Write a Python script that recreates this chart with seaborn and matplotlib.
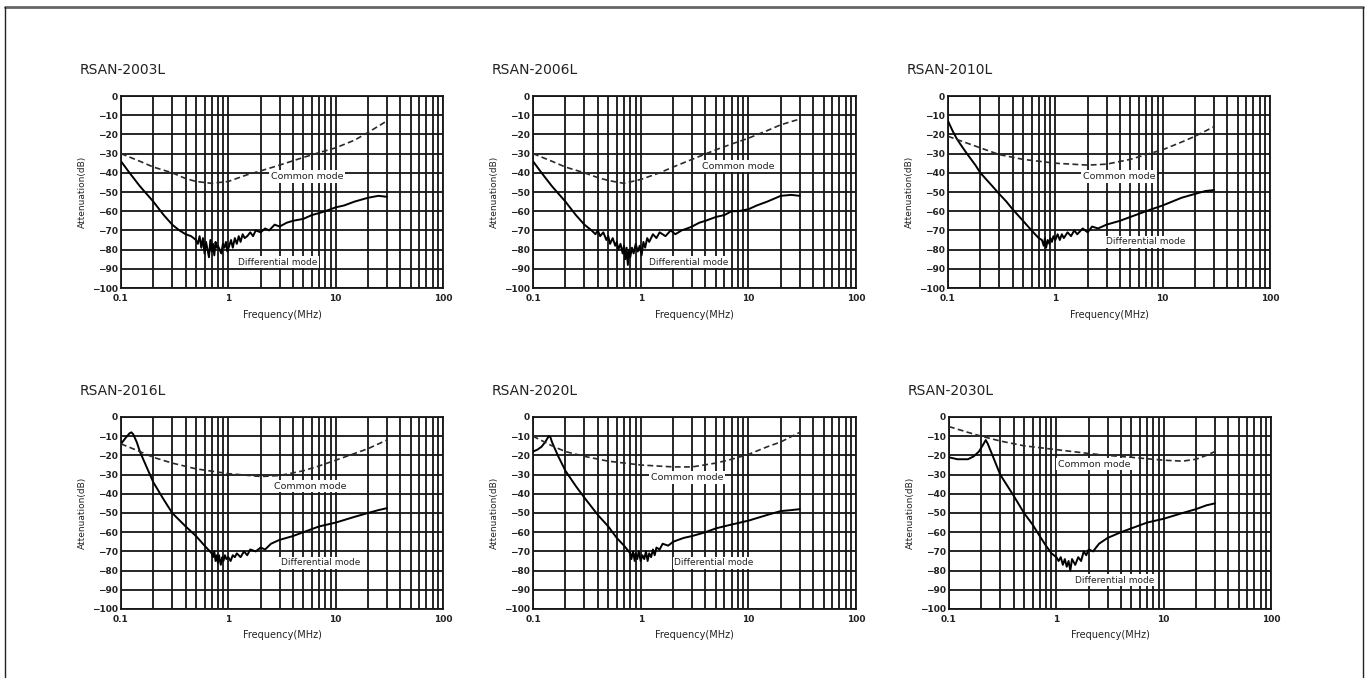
import numpy as np
import pandas as pd
import matplotlib
matplotlib.use("Agg")
import matplotlib.pyplot as plt
from matplotlib.ticker import LogLocator, FixedLocator, NullFormatter
from matplotlib.lines import Line2D
import seaborn as sns

# Panel titles
titles = ["RSAN-2003L", "RSAN-2006L", "RSAN-2010L",
          "RSAN-2016L", "RSAN-2020L", "RSAN-2030L"]

x_ticks = [0.1, 1, 10, 100]
x_tick_labels = ["0.1", "1", "10", "100"]
y_ticks = [0, -10, -20, -30, -40, -50, -60, -70, -80, -90, -100]
y_tick_labels = ["0", "\u221210", "\u221220", "\u221230", "\u221240", "\u221250",
                 "\u221260", "\u221270", "\u221280", "\u221290", "\u2212100"]

# Common mode curves (dashed)
cm_freq_2003 = [0.1, 0.15, 0.2, 0.3, 0.4, 0.5, 0.7, 1, 1.5, 2, 3, 5, 7, 10, 15, 20, 30]
cm_2003 = [-30, -34, -37, -40, -43, -44.5, -45.5, -44.5, -41, -39, -36, -32, -29.5, -27, -23, -19, -13]

cm_freq_2006 = [0.1, 0.15, 0.2, 0.3, 0.4, 0.5, 0.7, 1, 1.5, 2, 3, 5, 7, 10, 15, 20, 30]
cm_2006 = [-30, -34, -37, -40, -42.5, -44, -45.5, -43.5, -40, -37, -33, -28, -25, -22, -18, -15, -12]

cm_freq_2010 = [0.1, 0.2, 0.3, 0.5, 1, 2, 3, 5, 7, 10, 15, 20, 30]
cm_2010 = [-21, -27, -30.5, -33, -35, -36, -35.5, -33, -30.5, -28, -24, -21, -16]

cm_freq_2016 = [0.1, 0.15, 0.2, 0.3, 0.5, 1, 2, 3, 5, 7, 10, 15, 20, 30]
cm_2016 = [-14, -18, -21, -24, -27, -29.5, -31, -30.5, -28, -25.5, -22.5, -19, -16.5, -12]

cm_freq_2020 = [0.1, 0.15, 0.2, 0.3, 0.5, 1, 2, 3, 5, 7, 10, 15, 20, 30]
cm_2020 = [-10, -15, -18, -20.5, -23, -25, -26, -26, -24, -22, -19.5, -15.5, -13, -8]

cm_freq_2030 = [0.1, 0.15, 0.2, 0.3, 0.5, 1, 2, 3, 5, 10, 15, 20, 25, 30]
cm_2030 = [-5, -8, -10, -12.5, -15, -17, -19, -20, -21, -22.5, -23, -22, -20, -18]

# Differential mode curves (solid)
dm_freq_2003 = [0.1, 0.12, 0.15, 0.2, 0.25, 0.3, 0.35, 0.4, 0.45, 0.5,
                0.52, 0.54, 0.56, 0.58, 0.60, 0.62, 0.64, 0.66, 0.68, 0.70,
                0.72, 0.74, 0.76, 0.78, 0.80, 0.83, 0.86, 0.89, 0.92, 0.95,
                0.98, 1.02, 1.06, 1.10, 1.15, 1.20, 1.25, 1.30, 1.36, 1.42,
                1.5, 1.6, 1.7, 1.8, 2.0, 2.2, 2.4, 2.7, 3.0, 3.5,
                4, 5, 6, 7, 8, 10, 12, 15, 20, 25, 30]
dm_2003 = [-34, -40, -47, -55, -62, -67, -70, -72, -73, -75,
           -77, -73, -79, -74, -82, -76, -80, -84, -75, -81,
           -77, -83, -76, -79, -78, -80, -82, -77, -79, -76,
           -81, -78, -75, -79, -74, -77, -73, -76, -72, -74,
           -73, -71, -73, -70, -71, -69, -70, -67, -68, -66,
           -65, -64, -62, -61, -60, -58, -57, -55, -53, -52, -52.5]

dm_freq_2006 = [0.1, 0.12, 0.15, 0.2, 0.25, 0.3, 0.35, 0.38, 0.4, 0.42,
                0.45, 0.48, 0.5, 0.52, 0.55, 0.58, 0.6, 0.62, 0.65, 0.68,
                0.7, 0.72, 0.74, 0.76, 0.78, 0.8, 0.83, 0.86, 0.9, 0.94,
                0.98, 1.02, 1.06, 1.1, 1.15, 1.2, 1.3, 1.4, 1.5, 1.7,
                1.9, 2.1, 2.4, 2.7, 3, 3.5, 4, 5, 6, 7,
                8, 10, 12, 15, 20, 25, 30]
dm_2006 = [-34, -40, -47, -55, -62, -67, -70, -72, -70, -73,
           -71, -75, -73, -77, -74, -78, -76, -80, -77, -82,
           -78, -85, -79, -88, -80, -84, -79, -82, -77, -81,
           -78, -83, -76, -79, -74, -76, -72, -74, -71, -73,
           -70, -72, -70, -69, -68, -66, -65, -63, -62, -60,
           -60, -59, -57, -55, -52, -51.5, -52]

dm_freq_2010 = [0.1, 0.11, 0.12, 0.13, 0.15, 0.18, 0.2, 0.25, 0.3, 0.35,
                0.4, 0.5, 0.6, 0.7, 0.75, 0.78, 0.8, 0.82, 0.85, 0.88,
                0.9, 0.93, 0.96, 1.0, 1.05, 1.1, 1.15, 1.2, 1.3, 1.4,
                1.5, 1.6, 1.8, 2.0, 2.2, 2.5, 3, 4, 5, 7,
                10, 15, 20, 25, 30]
dm_2010 = [-13, -18, -22, -25, -30, -36, -40, -46, -51, -55,
           -59, -65, -70, -74, -75, -78, -74, -79, -75, -77,
           -74, -76, -73, -75, -72, -75, -72, -74, -71, -73,
           -70, -72, -69, -71, -68, -69, -67, -65, -63, -60,
           -57, -53, -51, -49.5, -49]

dm_freq_2016 = [0.1, 0.11, 0.12, 0.125, 0.13, 0.14, 0.15, 0.17, 0.2, 0.25,
                0.3, 0.4, 0.5, 0.6, 0.7, 0.72, 0.74, 0.76, 0.78, 0.8,
                0.82, 0.85, 0.88, 0.9, 0.93, 0.96, 1.0, 1.05, 1.1, 1.15,
                1.2, 1.3, 1.4, 1.5, 1.6, 1.8, 2.0, 2.2, 2.5, 3,
                4, 5, 7, 10, 15, 20, 25, 30]
dm_2016 = [-14, -11, -8.5, -8, -9, -13, -18, -25, -34, -43,
           -50, -57, -62, -67, -71, -73, -70, -75, -72, -76,
           -72, -77, -73, -75, -72, -74, -73, -75, -72, -73,
           -71, -73, -70, -72, -69, -70, -68, -69, -66, -64,
           -62, -60, -57, -55, -52, -50, -48.5, -47.5]

dm_freq_2020 = [0.1, 0.11, 0.12, 0.13, 0.14, 0.145, 0.15, 0.17, 0.2, 0.25,
                0.3, 0.4, 0.5, 0.6, 0.7, 0.75, 0.8, 0.82, 0.85, 0.88,
                0.9, 0.93, 0.96, 1.0, 1.04, 1.08, 1.12, 1.16, 1.2, 1.25,
                1.3, 1.35, 1.4, 1.5, 1.6, 1.8, 2, 2.5, 3, 4,
                5, 7, 10, 15, 20, 25, 30]
dm_2020 = [-18, -17, -15.5, -13, -10, -10.5, -13, -20, -28, -36,
           -42, -51, -57, -63, -67, -69, -71, -74, -70, -75,
           -71, -74, -70, -75, -72, -74, -70, -75, -71, -73,
           -69, -72, -68, -69, -66, -67, -65, -63, -62, -60,
           -58, -56, -54, -51, -49, -48.5, -48]

dm_freq_2030 = [0.1, 0.12, 0.15, 0.17, 0.19, 0.21, 0.22, 0.23, 0.25, 0.3,
                0.4, 0.5, 0.6, 0.7, 0.8, 0.9, 1.0, 1.05, 1.1, 1.15,
                1.2, 1.25, 1.3, 1.35, 1.4, 1.5, 1.6, 1.7, 1.8, 1.9,
                2.0, 2.2, 2.5, 3, 4, 5, 7, 10, 15, 20,
                25, 30]
dm_2030 = [-21, -22, -22, -20.5, -18, -14, -12, -14, -19, -30,
           -41, -50, -56, -62, -67, -71, -73, -75, -73, -77,
           -74, -78, -75, -80, -74, -77, -73, -75, -70, -72,
           -69, -70, -66, -63, -60, -58, -55, -53, -50, -48,
           -46, -45]

cm_freqs = [cm_freq_2003, cm_freq_2006, cm_freq_2010, cm_freq_2016, cm_freq_2020, cm_freq_2030]
cm_vals = [cm_2003, cm_2006, cm_2010, cm_2016, cm_2020, cm_2030]
dm_freqs = [dm_freq_2003, dm_freq_2006, dm_freq_2010, dm_freq_2016, dm_freq_2020, dm_freq_2030]
dm_vals = [dm_2003, dm_2006, dm_2010, dm_2016, dm_2020, dm_2030]

sns.set_style("white")
plt.rcParams['font.family'] = ['DejaVu Sans']

W, H = 1370, 678
fig = plt.figure(figsize=(W / 100, H / 100), dpi=100)

# axes boxes in pixels: left, top, width, height
boxes = [(121, 96, 322, 192), (533, 96, 323, 192), (948, 96, 322, 192),
         (121, 417, 322, 192), (533, 417, 323, 192), (949, 417, 322, 192)]

# label positions (MHz, dB)
cm_label_pos = [(5.4, -42), (8.1, -36.5), (3.95, -42), (5.8, -36), (2.7, -31.5), (2.25, -24.5)]
dm_label_pos = [(2.9, -86.5), (2.8, -86.5), (7.0, -76), (7.2, -76), (4.8, -76), (3.5, -85)]

grid_c = "#151515"

for i in range(6):
    l, t, w, h = boxes[i]
    ax = fig.add_axes([l / W, 1 - (t + h) / H, w / W, h / H])

    dm = pd.DataFrame({"freq": dm_freqs[i], "att": dm_vals[i]})
    cm = pd.DataFrame({"freq": cm_freqs[i], "att": cm_vals[i]})
    sns.lineplot(data=dm, x="freq", y="att", ax=ax, color="black", lw=1.4,
                 sort=False, estimator=None, zorder=3)
    sns.lineplot(data=cm, x="freq", y="att", ax=ax, color="#2a2a2a", lw=1.2,
                 sort=False, estimator=None, zorder=3)
    ax.lines[-1].set_dashes([3.5, 2])

    ax.set_xscale("log")
    ax.set_xlim(0.1, 100)
    ax.set_ylim(-100, 0)
    ax.xaxis.set_major_locator(FixedLocator(x_ticks))
    ax.set_xticklabels(x_tick_labels)
    ax.xaxis.set_minor_locator(LogLocator(base=10, subs=np.arange(2, 10)))
    ax.xaxis.set_minor_formatter(NullFormatter())
    ax.set_yticks(y_ticks)
    ax.set_yticklabels(y_tick_labels)
    ax.tick_params(length=0, labelsize=6.5, pad=2.5)
    ax.tick_params(axis="x", pad=4)
    for lab in ax.get_xticklabels() + ax.get_yticklabels():
        lab.set_fontweight("bold")
        lab.set_color("#222222")
    ax.grid(False)
    ax.xaxis.grid(True, which="both", color=grid_c, lw=1.3)
    ax.yaxis.grid(True, which="major", color=grid_c, lw=1.3)
    ax.set_axisbelow(True)
    for s in ax.spines.values():
        s.set_color(grid_c)
        s.set_linewidth(1.3)

    ax.set_xlabel("Frequency(MHz)", fontsize=7, labelpad=5, color="#222222")
    ax.set_ylabel("Attenuation(dB)", fontsize=6.5, labelpad=3, color="#222222")

    bb = dict(facecolor="white", edgecolor="none", pad=1.2)
    ax.text(*cm_label_pos[i], "Common mode", fontsize=6.8, ha="center", va="center",
            bbox=bb, zorder=4, color="#222222")
    ax.text(*dm_label_pos[i], "Differential mode", fontsize=6.5, ha="center", va="center",
            bbox=bb, zorder=4, color="#222222")

    fig.text((l - 41) / W, 1 - (t - 25.5) / H, titles[i], fontsize=10,
             ha="left", va="center", color="#222222")

# outer frame (top, left, right)
fig.add_artist(Line2D([5 / W, 1363 / W], [1 - 6.5 / H, 1 - 6.5 / H], color="#666666", lw=2))
fig.add_artist(Line2D([5 / W, 5 / W], [0, 1 - 6.5 / H], color="#222222", lw=1))
fig.add_artist(Line2D([1363 / W, 1363 / W], [0, 1 - 6.5 / H], color="#222222", lw=1))

fig.savefig("out.png", dpi=100)
